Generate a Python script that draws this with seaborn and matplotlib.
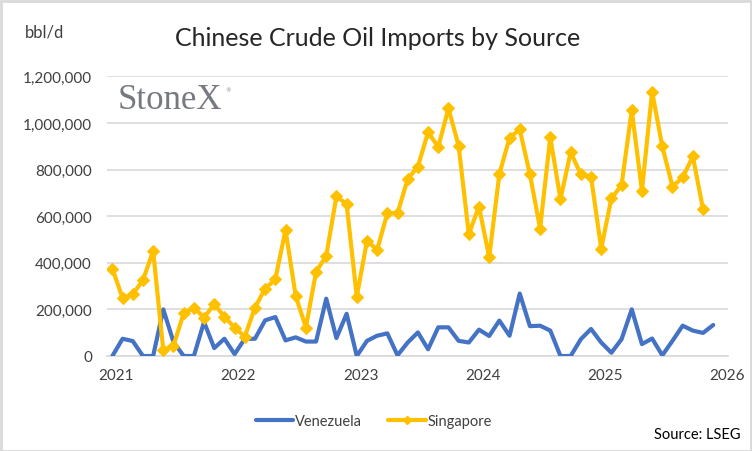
import numpy as np
import pandas as pd
import matplotlib
matplotlib.use("Agg")
import matplotlib.pyplot as plt
import matplotlib.transforms as mtransforms
from matplotlib.lines import Line2D
from matplotlib.patches import Rectangle
import seaborn as sns

# ---- data (monthly, bbl/d) ----
start_year = 2021
venezuela = [0, 74000, 64000, 0, 0, 200000, 60000, 0, 0, 146000, 34000, 74000,
             8000, 74000, 74000, 153000, 167000, 67000, 80000, 62000, 62000, 246000, 77000, 181000,
             0, 65000, 87000, 97000, 3000, 58000, 101000, 29000, 123000, 123000, 65000, 58000,
             113000, 86000, 152000, 87000, 268000, 128000, 130000, 109000, 0, 0, 72000, 116000,
             58000, 14000, 72000, 200000, 51000, 75000, 3000, 65000, 130000, 109000, 99000, 133000]
singapore = [375000, 248000, 265000, 325000, 451000, 25000, 45000, 183000, 208000, 165000, 222000, 169000,
             122000, 83000, 208000, 289000, 329000, 541000, 258000, 122000, 361000, 430000, 685000, 652000,
             255000, 494000, 455000, 613000, 613000, 759000, 813000, 960000, 897000, 1062000, 902000, 523000,
             641000, 424000, 780000, 936000, 972000, 780000, 547000, 938000, 673000, 874000, 780000, 770000,
             461000, 676000, 733000, 1055000, 709000, 1134000, 899000, 727000, 766000, 856000, 630000]
year_ticks = [2021, 2022, 2023, 2024, 2025, 2026]
series_names = ["Venezuela", "Singapore"]

ven_x = [start_year + (i + 0.5) / 12 for i in range(len(venezuela))]
sgp_x = [start_year + (i + 0.5) / 12 for i in range(len(singapore))]
df_v = pd.DataFrame({"t": ven_x, "v": venezuela})
df_s = pd.DataFrame({"t": sgp_x, "v": singapore})

BLUE = "#4472C4"
GOLD = "#FFC000"
GRID = "#D9D9D9"
TXT = "#404040"

sns.set_style("white")
plt.rcParams["font.family"] = ["Lato", "DejaVu Sans"]

W, H = 752, 452
fig = plt.figure(figsize=(W / 100, H / 100), dpi=100)
ax = fig.add_axes([107.3 / W, 1 - 357 / H, (727.7 - 107.3) / W, (357 - 77.3) / H])

sns.lineplot(data=df_v, x="t", y="v", ax=ax, color=BLUE, linewidth=3.0,
             solid_capstyle="round", solid_joinstyle="round", zorder=3)
sns.lineplot(data=df_s, x="t", y="v", ax=ax, color=GOLD, linewidth=3.0,
             marker="D", markersize=6.5, markeredgecolor=GOLD, markerfacecolor=GOLD,
             solid_joinstyle="round", zorder=4)

ax.set_xlim(2021, 2021 + (727.7 - 107.3) / 122.2)
ax.set_ylim(0, 1200000)
ax.set_yticks(np.arange(0, 1200001, 200000))
ax.set_yticklabels([f"{int(v):,}" for v in np.arange(0, 1200001, 200000)])
ax.set_xticks(year_ticks)
ax.set_xticklabels([str(y) for y in year_ticks])
ax.set_xlabel("")
ax.set_ylabel("")
ax.grid(axis="y", color=GRID, linewidth=1.2, zorder=0)
ax.set_axisbelow(True)
for s in ["top", "right", "left"]:
    ax.spines[s].set_visible(False)
ax.spines["bottom"].set_color(GRID)
ax.spines["bottom"].set_linewidth(1.2)
ax.tick_params(axis="y", length=0, pad=11, labelsize=11, labelcolor=TXT)
ax.tick_params(axis="x", length=5, width=1.2, color=GRID, direction="out", pad=4,
               labelsize=11, labelcolor=TXT)
offset = mtransforms.ScaledTranslation(9 / 100, 0, fig.dpi_scale_trans)
for lab in ax.get_xticklabels():
    lab.set_transform(lab.get_transform() + offset)

# title and unit
fig.text(0.502, 1 - 38 / H, "Chinese Crude Oil Imports by Source", ha="center", va="center",
         fontsize=18, color="#262626")
fig.text(25 / W, 1 - 33 / H, "bbl/d", ha="left", va="center", fontsize=12, color=TXT)

# StoneX watermark
fig.text(118 / W, 1 - 101 / H, "StoneX", ha="left", va="center", fontsize=25,
         family="Liberation Serif", color="#767A80")
fig.text(225 / W, 1 - 91 / H, "\u00ae", ha="left", va="center", fontsize=4,
         family="DejaVu Sans", color="#767A80")

# legend
handles = [Line2D([], [], color=BLUE, linewidth=3.0, solid_capstyle="round"),
           Line2D([], [], color=GOLD, linewidth=3.0, marker="D", markersize=4,
                  solid_capstyle="round")]
fig.legend(handles, series_names, loc="center", bbox_to_anchor=(0.497, 1 - 422 / H),
           ncol=2, frameon=False, fontsize=10.5, handlelength=2.6, handletextpad=0.1,
           columnspacing=1.8, labelcolor=TXT)

fig.text(740 / W, 1 - 435 / H, "Source: LSEG", ha="right", va="center", fontsize=10.5,
         color="black")

# outer frame
fig.patches.append(Rectangle((0.5 / W, 0.5 / H), 1 - 2 / W, 1 - 2 / H, transform=fig.transFigure,
                             fill=False, edgecolor="#D9D9D9", linewidth=2))

fig.savefig("out.png", dpi=100)
